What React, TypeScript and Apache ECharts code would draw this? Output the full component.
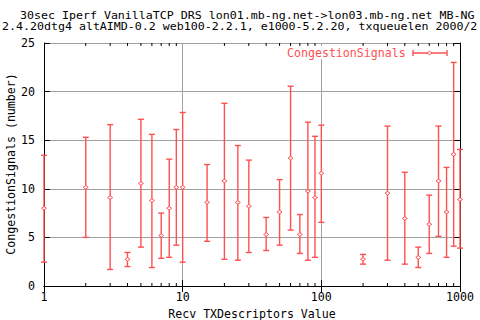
import { useEffect, useRef } from "react";
import * as echarts from "echarts";

const xValues = [1, 2, 3, 4, 5, 6, 7, 8, 9, 10, 15, 20, 25, 30, 40, 50, 60, 70, 80, 90, 100, 200, 300, 400, 500, 600, 700, 800, 900, 1000];
const means = [8.0, 10.15, 9.1, 2.75, 10.55, 8.8, 5.2, 8.0, 10.15, 10.15, 8.6, 10.8, 8.6, 8.2, 5.3, 7.6, 13.15, 5.3, 9.75, 9.1, 11.6, 2.75, 9.55, 6.95, 2.95, 6.35, 10.8, 7.6, 13.55, 8.9];
const lows = [2.45, 5.0, 1.7, 2.0, 4.0, 1.9, 2.85, 2.95, 4.2, 2.45, 4.6, 2.75, 2.65, 3.45, 3.65, 4.2, 5.75, 3.35, 2.65, 2.95, 6.55, 2.25, 2.65, 2.25, 1.9, 3.35, 5.1, 2.95, 4.1, 3.9];
const highs = [13.45, 15.3, 16.6, 3.45, 17.15, 15.6, 7.5, 13.05, 16.1, 17.85, 12.5, 18.8, 14.45, 12.95, 7.05, 10.95, 20.55, 7.35, 16.85, 15.4, 16.55, 3.25, 16.45, 11.7, 4.0, 9.35, 16.45, 12.2, 23.0, 14.05];
const minorTickValues = [2, 3, 4, 5, 6, 7, 8, 9, 20, 30, 40, 50, 60, 70, 80, 90, 200, 300, 400, 500, 600, 700, 800, 900];

const titleLine1 = "30sec Iperf VanillaTCP DRS lon01.mb-ng.net->lon03.mb-ng.net MB-NG";
const titleLine2 = "2.4.20dtg4 altAIMD-0.2 web100-2.2.1, e1000-5.2.20, txqueuelen 2000/2";
const seriesName = "CongestionSignals";
const xName = "Recv TXDescriptors Value";
const yName = "CongestionSignals (number)";

const RED = "#ff5050";
const GRID = "#a0a0a0";
const FONT = "DejaVu Sans Mono";
const FS = 11.6;
const TFS = 10.4;
const TSX = 7 / (0.602 * TFS);

export default function App() {
  const ref = useRef<HTMLDivElement>(null);
  useEffect(() => {
    const chart = echarts.init(ref.current!, null, { renderer: "svg" });
    const errData = xValues.map((x, i) => [x, lows[i], highs[i], means[i]]);
    const minorData = minorTickValues.map((v) => [v, 0]);
    const axisText = { color: "#000", fontFamily: FONT, fontSize: FS };
    chart.setOption({
      animation: false,
      backgroundColor: "#fff",
      grid: { left: 44, right: 20, top: 43, bottom: 34, containLabel: false, outerBoundsMode: "none" },
      xAxis: [
        {
          type: "log",
          logBase: 10,
          min: 1,
          max: 1000,
          position: "bottom",
          name: xName,
          nameLocation: "middle",
          nameGap: 22,
          nameTextStyle: axisText,
          axisLine: { show: true, lineStyle: { color: "#000", width: 1 } },
          axisTick: { show: true, inside: true, length: 6, lineStyle: { color: "#000" } },
          axisLabel: { ...axisText, margin: 5, formatter: (v: number) => String(v) },
          splitLine: { show: true, lineStyle: { color: GRID, width: 1 } },
        },
        {
          type: "log",
          logBase: 10,
          min: 1,
          max: 1000,
          position: "top",
          axisLine: { show: true, lineStyle: { color: "#000", width: 1 } },
          axisTick: { show: true, inside: true, length: 6, lineStyle: { color: "#000" } },
          axisLabel: { show: false },
          splitLine: { show: false },
        },
      ],
      yAxis: [
        {
          type: "value",
          min: 0,
          max: 25,
          interval: 5,
          position: "left",
          axisLine: { show: true, lineStyle: { color: "#000", width: 1 } },
          axisTick: { show: true, inside: true, length: 6, lineStyle: { color: "#000" } },
          axisLabel: { ...axisText, margin: 9 },
          splitLine: { show: true, lineStyle: { color: GRID, width: 1 } },
        },
        {
          type: "value",
          min: 0,
          max: 25,
          interval: 5,
          position: "right",
          axisLine: { show: true, lineStyle: { color: "#000", width: 1 } },
          axisTick: { show: true, inside: true, length: 6, lineStyle: { color: "#000" } },
          axisLabel: { show: false },
          splitLine: { show: false },
        },
      ],
      series: [
        {
          type: "custom",
          name: "minorTicks",
          silent: true,
          clip: false,
          z: 5,
          data: minorData,
          encode: { x: 0, y: 1 },
          renderItem: (params: any, api: any) => {
            const v = api.value(0);
            const b = api.coord([v, 0]);
            const t = api.coord([v, 25]);
            const st = { stroke: "#000", lineWidth: 1 };
            return {
              type: "group",
              children: [
                { type: "line", shape: { x1: b[0], y1: b[1], x2: b[0], y2: b[1] - 3 }, style: st },
                { type: "line", shape: { x1: t[0], y1: t[1], x2: t[0], y2: t[1] + 3 }, style: st },
              ],
            };
          },
        },
        {
          type: "custom",
          name: seriesName,
          clip: false,
          z: 10,
          data: errData,
          encode: { x: 0, y: [1, 2, 3] },
          renderItem: (params: any, api: any) => {
            const x = api.value(0);
            const lo = api.coord([x, api.value(1)]);
            const hi = api.coord([x, api.value(2)]);
            const m = api.coord([x, api.value(3)]);
            const st = { stroke: RED, lineWidth: 1.4, fill: "none" };
            const cw = 3;
            return {
              type: "group",
              children: [
                { type: "line", shape: { x1: lo[0], y1: lo[1], x2: hi[0], y2: hi[1] }, style: st },
                { type: "line", shape: { x1: lo[0] - cw, y1: lo[1], x2: lo[0] + cw, y2: lo[1] }, style: st },
                { type: "line", shape: { x1: hi[0] - cw, y1: hi[1], x2: hi[0] + cw, y2: hi[1] }, style: st },
                {
                  type: "polygon",
                  shape: { points: [[m[0] - 2.5, m[1]], [m[0], m[1] - 1.8], [m[0] + 2.5, m[1]], [m[0], m[1] + 1.8]] },
                  style: { stroke: RED, lineWidth: 1, fill: "#fff" },
                },
              ],
            };
          },
        },
      ],
      graphic: [
        { type: "text", x: 20, y: 16, scaleX: TSX, style: { text: titleLine1, fill: "#000", font: `${TFS}px ${FONT}`, verticalAlign: "middle", lineHeight: 10 } },
        { type: "text", x: 2, y: 26.5, scaleX: TSX, style: { text: titleLine2, fill: "#000", font: `${TFS}px ${FONT}`, verticalAlign: "middle", lineHeight: 10 } },
        { type: "text", x: 11, y: 164, rotation: Math.PI / 2, style: { text: yName, fill: "#000", font: `${FS}px ${FONT}`, align: "center", verticalAlign: "middle", lineHeight: 12 } },
        { type: "rect", shape: { x: 283, y: 46, width: 168, height: 13 }, style: { fill: "#fff" }, z: 20 },
        { type: "text", x: 287, y: 53, z: 21, style: { text: seriesName, fill: RED, font: `${FS}px ${FONT}`, verticalAlign: "middle" } },
        { type: "line", z: 21, shape: { x1: 413, y1: 53, x2: 447, y2: 53 }, style: { stroke: RED, lineWidth: 1.4 } },
        { type: "line", z: 21, shape: { x1: 413, y1: 50, x2: 413, y2: 56 }, style: { stroke: RED, lineWidth: 1.4 } },
        { type: "line", z: 21, shape: { x1: 447, y1: 50, x2: 447, y2: 56 }, style: { stroke: RED, lineWidth: 1.4 } },
        { type: "polygon", z: 22, shape: { points: [[427, 53], [429.5, 51.2], [432, 53], [429.5, 54.8]] }, style: { stroke: RED, lineWidth: 1, fill: "#fff" } },
      ],
    });
    return () => chart.dispose();
  }, []);
  return <div ref={ref} style={{ position: "absolute", left: 0, top: 0, width: 480, height: 320 }} />;
}
